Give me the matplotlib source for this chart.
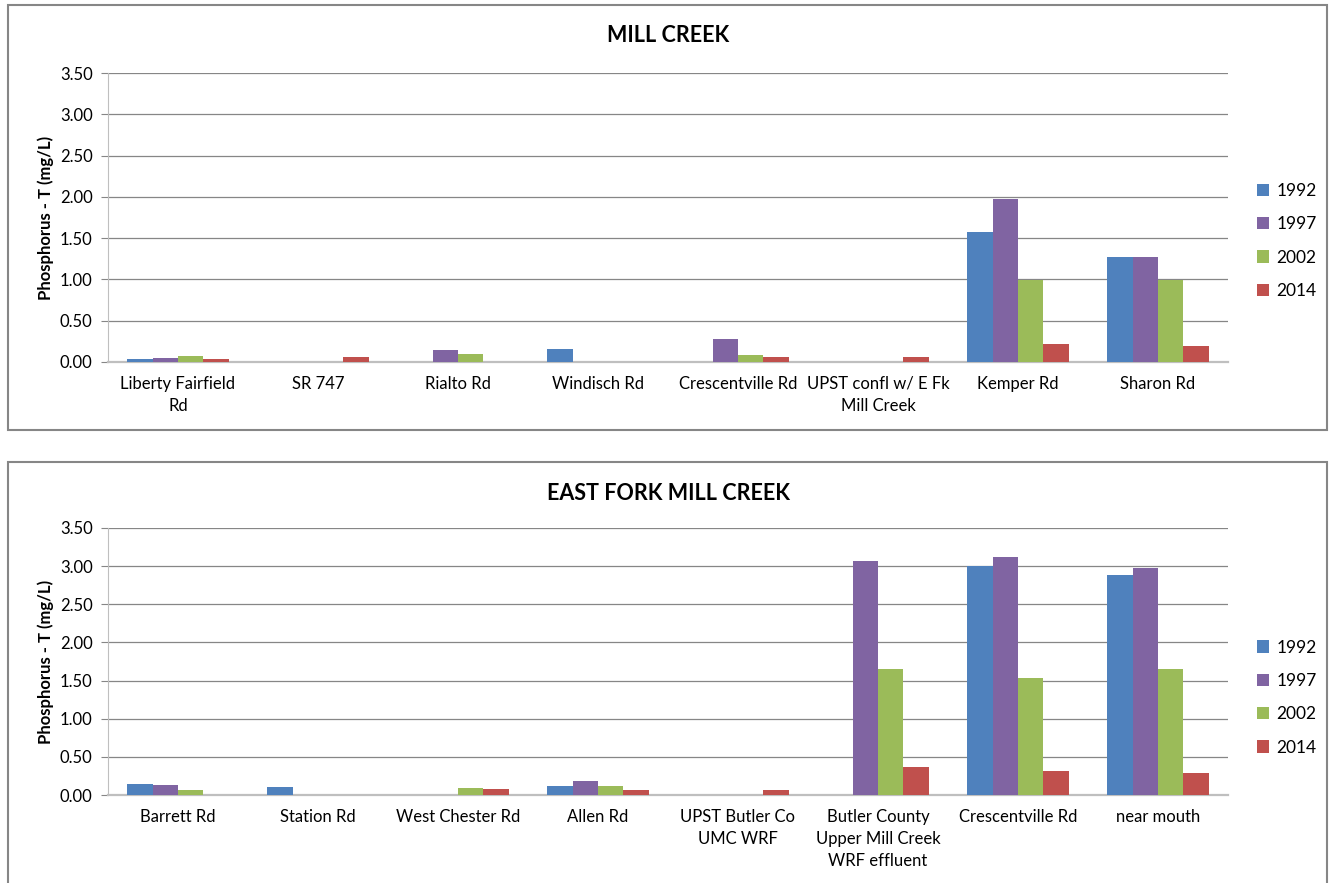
import matplotlib.pyplot as plt
import numpy as np
from matplotlib.patches import Rectangle

plt.rcParams['font.family'] = ['Lato', 'DejaVu Sans']

years = ["1992", "1997", "2002", "2014"]
colors = ["#4F81BD", "#8064A2", "#9BBB59", "#C0504D"]

# Mill Creek mainstem sites
mill_sites = ["Liberty Fairfield\nRd", "SR 747", "Rialto Rd", "Windisch Rd",
              "Crescentville Rd", "UPST confl w/ E Fk\nMill Creek", "Kemper Rd", "Sharon Rd"]
mill_1992 = [0.04, 0.00, 0.00, 0.16, 0.00, 0.00, 1.57, 1.27]
mill_1997 = [0.05, 0.00, 0.14, 0.00, 0.28, 0.00, 1.98, 1.27]
mill_2002 = [0.07, 0.00, 0.10, 0.00, 0.09, 0.00, 0.99, 0.99]
mill_2014 = [0.04, 0.06, 0.00, 0.00, 0.06, 0.06, 0.22, 0.19]

# East Fork Mill Creek sites
ef_sites = ["Barrett Rd", "Station Rd", "West Chester Rd", "Allen Rd",
            "UPST Butler Co\nUMC WRF", "Butler County\nUpper Mill Creek\nWRF effluent",
            "Crescentville Rd", "near mouth"]
ef_1992 = [0.15, 0.11, 0.00, 0.12, 0.00, 0.00, 3.00, 2.88]
ef_1997 = [0.13, 0.00, 0.00, 0.18, 0.00, 3.07, 3.12, 2.97]
ef_2002 = [0.07, 0.00, 0.09, 0.12, 0.00, 1.65, 1.54, 1.65]
ef_2014 = [0.00, 0.00, 0.08, 0.07, 0.06, 0.37, 0.31, 0.29]

yticks = np.arange(0, 3.51, 0.5)

W, H = 1331, 883
fig = plt.figure(figsize=(W / 100, H / 100), dpi=100)

# panel frames
for (x0, y0, x1, y1) in [(8, 5, 1327, 430), (8, 462, 1327, 890)]:
    fig.patches.append(Rectangle((x0 / W, 1 - y1 / H), (x1 - x0) / W, (y1 - y0) / H,
                                 transform=fig.transFigure, fill=False,
                                 edgecolor="#868686", linewidth=1.5))


def draw_panel(rect, title, title_y, sites, series, legend_y):
    ax = fig.add_axes(rect)
    x = np.arange(len(sites))
    bw = 1 / 5.5
    for i, (vals, c, yr) in enumerate(zip(series, colors, years)):
        ax.bar(x + (i - 1.5) * bw, vals, width=bw, color=c, label=yr, zorder=3)
    ax.set_xlim(-0.5, len(sites) - 0.5)
    ax.set_ylim(0, 3.5)
    ax.set_yticks(yticks)
    ax.set_yticklabels([f"{v:.2f}" for v in yticks], fontsize=12)
    ax.set_xticks(x)
    ax.set_xticklabels(sites, fontsize=12, linespacing=1.45)
    ax.tick_params(axis="x", length=0, pad=10)
    ax.tick_params(axis="y", length=5, color="#868686", pad=6)
    ax.grid(axis="y", color="#868686", linewidth=0.9, zorder=0)
    for s in ["top", "right"]:
        ax.spines[s].set_visible(False)
    ax.spines["left"].set_color("#BFBFBF")
    ax.spines["bottom"].set_color("#BFBFBF")
    ax.spines["bottom"].set_linewidth(1.6)
    ax.set_ylabel("Phosphorus - T (mg/L)", fontsize=12, fontweight="bold", labelpad=4)
    fig.text(0.502, 1 - title_y / H, title, ha="center", va="center",
             fontsize=15.5, fontweight="bold")
    ax.legend(loc="center left", bbox_to_anchor=(1.012, legend_y), frameon=False,
              fontsize=12.5, handlelength=0.7, handleheight=0.7,
              handletextpad=0.4, labelspacing=1.0)
    return ax


draw_panel([108 / W, 1 - 362 / H, 1120 / W, 289 / H], "MILL CREEK", 35,
           mill_sites, [mill_1992, mill_1997, mill_2002, mill_2014], 0.419)
draw_panel([108 / W, 1 - 795 / H, 1120 / W, 267 / H], "EAST FORK MILL CREEK", 493,
           ef_sites, [ef_1992, ef_1997, ef_2002, ef_2014], 0.365)

fig.savefig("out.png", dpi=100)
